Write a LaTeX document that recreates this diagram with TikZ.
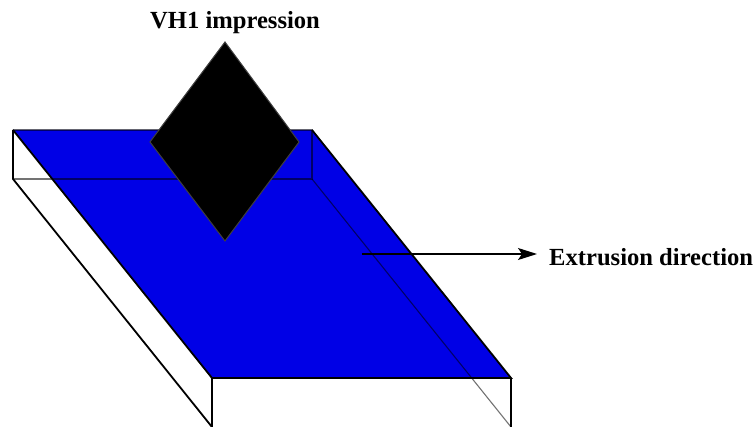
\documentclass[tikz,border=0pt]{standalone}
\usepackage{fontspec}
\setmainfont{Liberation Serif}
\usetikzlibrary{calc,positioning,arrows.meta}
\definecolor{plateblue}{RGB}{0,0,230}
\tikzset{
  edge/.style={black,line width=1.8pt},
  hidden/.style={black,draw opacity=0.55,line width=1.1pt},
  label/.style={font=\fontsize{24.6}{28}\selectfont\bfseries,inner sep=0pt,anchor=base west},
}

\begin{document}
\begin{tikzpicture}[x=1pt,y=-1pt,>={Stealth[length=19pt,width=12pt,inset=4pt]}]
  \useasboundingbox (0,0) rectangle (756,427);
  \coordinate (backleft) at (13,130);
  \coordinate (backright) at (312,130);
  \coordinate (frontleft) at (212,378);
  \coordinate (frontright) at (511,378);
  \coordinate (backleftlow) at (13,179);
  \coordinate (backrightlow) at (312,179);
  \coordinate (frontleftlow) at (212,427);
  \coordinate (frontrightlow) at (511,427);
  \coordinate (arrowstart) at (362,254);
  \coordinate (arrowend) at (537,254);
  \fill[plateblue] (backleft) -- (backright) -- (frontright) -- (frontleft) -- cycle;
  \draw[edge] (backleft) -- (frontleft) -- (frontright) -- (backright);
  \draw[edge] (backleft) -- (backleftlow) -- (frontleftlow) -- (frontleft);
  \draw[edge] (frontright) -- (frontrightlow);
  \draw[hidden] (backleft) -- (backright) -- (backrightlow) -- (backleftlow);
  \draw[hidden] (backrightlow) -- (frontrightlow);
  \draw[fill=black,draw=black!75,line width=1pt] (225,42) -- (299,142) -- (225,241) -- (150,142) -- cycle;
  \node[label] (title) at (150,29) {VH1 impression};
  \node[label] (extrusion) at (549,265.5) {Extrusion direction};
  \draw[->,line width=1.2pt] (arrowstart) -- (arrowend);
\end{tikzpicture}
\end{document}
